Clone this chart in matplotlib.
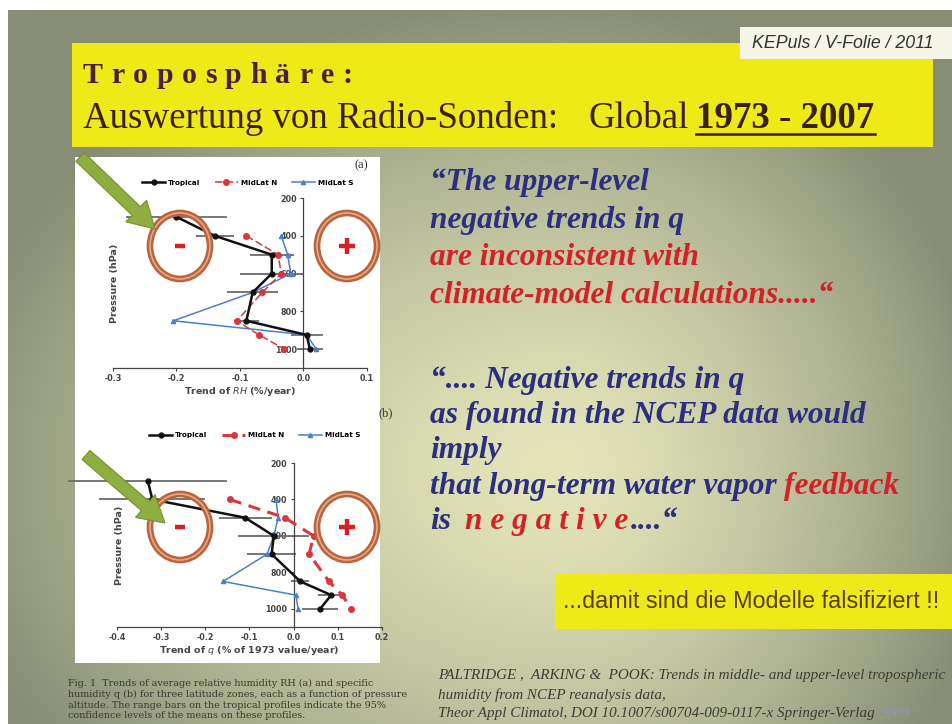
import numpy as np
import matplotlib
matplotlib.use("Agg")
import matplotlib.pyplot as plt
from matplotlib.patches import Rectangle, Ellipse, FancyArrow

W, H = 953, 724

# ── data ──────────────────────────────────────────────────────────────────
levels_trop = [300, 400, 500, 600, 700, 850, 925, 1000]
levels_mid = [400, 500, 600, 700, 850, 925, 1000]

rh_tropical = [-0.20, -0.14, -0.05, -0.05, -0.08, -0.09, 0.005, 0.01]
rh_tropical_err = [0.08, 0.03, 0.035, 0.05, 0.04, 0.02, 0.025, 0.02]
rh_midlat_n = [-0.09, -0.04, -0.035, -0.065, -0.105, -0.07, -0.03]
rh_midlat_s = [-0.035, -0.025, -0.02, -0.08, -0.205, 0.005, 0.02]

q_tropical = [-0.33, -0.32, -0.11, -0.045, -0.05, 0.015, 0.085, 0.06]
q_tropical_err = [0.18, 0.12, 0.06, 0.08, 0.055, 0.02, 0.03, 0.04]
q_midlat_n = [-0.145, -0.02, 0.045, 0.035, 0.08, 0.11, 0.13]
q_midlat_s = [-0.04, -0.035, -0.045, -0.06, -0.16, 0.005, 0.01]

pressure_ticks = [200, 400, 600, 800, 1000]
rh_ticks = [-0.3, -0.2, -0.1, 0.0, 0.1]
q_ticks = [-0.4, -0.3, -0.2, -0.1, 0.0, 0.1, 0.2]

caption = [
    "Fig. 1  Trends of average relative humidity RH (a) and specific",
    "humidity q (b) for three latitude zones, each as a function of pressure",
    "altitude. The range bars on the tropical profiles indicate the 95%",
    "confidence levels of the means on these profiles.",
]
citation = [
    "PALTRIDGE ,  ARKING &  POOK: Trends in middle- and upper-level tropospheric",
    "humidity from NCEP reanalysis data,",
    "Theor Appl Climatol, DOI 10.1007/s00704-009-0117-x Springer-Verlag",
]

# ── palette ───────────────────────────────────────────────────────────────
YELLOW = "#efea17"
BLUE_TXT = "#2c2f80"
RED_TXT = "#d42128"
BLACK = "#111111"
RED = "#d8383c"
BLUE = "#4a7fd0"
RING = "#b8643c"
RING_HI = "#e8a888"
GREEN = "#8fae3f"
SERIF = "Liberation Serif"
SANS = "Liberation Sans"

fig = plt.figure(figsize=(W / 100, H / 100), dpi=100)
rend = fig.canvas.get_renderer()


def full_axes(z):
    ax = fig.add_axes([0, 0, 1, 1], zorder=z)
    ax.set_xlim(0, W)
    ax.set_ylim(H, 0)
    ax.axis("off")
    ax.patch.set_alpha(0)
    return ax


def px_axes(l, t, r, b):
    return fig.add_axes([l / W, 1 - b / H, (r - l) / W, (b - t) / H], zorder=2)


# ── background: olive radial shading ──────────────────────────────────────
bg = full_axes(0)
yy, xx = np.mgrid[0:H, 0:W] + 0.5
cx, cy = 560, 470
rx = np.where(xx < cx, (xx - cx) / 620, (xx - cx) / 430)
ry = (yy - cy) / 470
t = np.clip(np.sqrt(rx ** 2 + ry ** 2), 0, 1) ** 1.4
light = np.array([0.895, 0.898, 0.725])
dark = np.array([0.53, 0.56, 0.46])
img = light * (1 - t[..., None]) + dark * t[..., None]
img[:10, :, :] = 1.0
img[:, :8, :] = 1.0
bg.imshow(img, extent=(0, W, H, 0), aspect="auto", interpolation="bilinear")
bg.set_xlim(0, W); bg.set_ylim(H, 0)

bg.add_patch(Rectangle((72, 43), 861, 104, color=YELLOW, lw=0))
bg.add_patch(Rectangle((740, 27), 213, 32, color="#f5f5e8", lw=0))
bg.add_patch(Rectangle((555, 574), 398, 55, color=YELLOW, lw=0))
bg.add_patch(Rectangle((75, 157), 305, 506, color="white", lw=0))

ov = full_axes(5)


def chain(x, y, parts, **kw):
    # parts: (text, colour, gap in px after it)
    for s, c, gap in parts:
        tx = ov.text(x, y, s, color=c, **kw)
        x += tx.get_window_extent(renderer=rend).width + gap
    return x


# ── header ───────────────────────────────────────────────────────────────
ov.text(752, 43, "KEPuls / V-Folie / 2011", family=SANS, style="italic",
        fontsize=12.8, color="#333333", va="center")

x = 83
for ch in "Troposphäre:":
    tx = ov.text(x, 83, ch, family=SERIF, weight="bold", fontsize=21.5,
                 color="#4a1f3c", va="baseline")
    x += tx.get_window_extent(renderer=rend).width + 8.5

x_end = chain(83, 128, [("Auswertung von Radio-Sonden:", "#3b2113", 30),
                        ("Global", "#3b2113", 8)],
              family=SERIF, fontsize=26.6, va="baseline")
x_num = x_end
x_end = chain(x_num, 128, [("1973 - 2007", "#3b2113", 0)],
              family=SERIF, weight="bold", fontsize=26.6, va="baseline")
ov.plot([x_num, x_end], [134, 134], color="#3b2113", lw=1.8)

# ── quotes ───────────────────────────────────────────────────────────────
qkw = dict(family=SERIF, weight="bold", style="italic", fontsize=22.6,
           va="baseline")
qx = 430
ov.text(qx, 190, "\u201cThe upper-level", color=BLUE_TXT, **qkw)
ov.text(qx, 228, "negative trends in q", color=BLUE_TXT, **qkw)
ov.text(qx, 265, "are inconsistent with", color=RED_TXT, **qkw)
ov.text(qx, 303, "climate-model calculations.....\u201c", color=RED_TXT, **qkw)

ov.text(qx, 388, "\u201c.... Negative trends in q", color=BLUE_TXT, **qkw)
ov.text(qx, 423, "as found in the NCEP data would", color=BLUE_TXT, **qkw)
ov.text(qx, 458, "imply", color=BLUE_TXT, **qkw)
chain(qx, 494, [("that long-term water vapor", BLUE_TXT, 7),
                ("feedback", RED_TXT, 0)], **qkw)
chain(qx, 529, [("is", BLUE_TXT, 14), ("n e g a t i v e", RED_TXT, 3),
                ("....\u201c", BLUE_TXT, 0)], **qkw)

ov.text(563, 602, "...damit sind die Modelle falsifiziert !!", family=SANS,
        fontsize=16.8, color="#5a3b10", va="center")

# ── captions ─────────────────────────────────────────────────────────────
for i, line in enumerate(caption):
    ov.text(68, 683 + 11 * i, line, family="DejaVu Serif", fontsize=6.9,
            color="#3a3a30", va="center")
for i, line in enumerate(citation):
    yl = 676 + 19 * i
    xe = chain(438, yl, [(line, "#3d3d35", 5)], family=SERIF,
               style="italic", fontsize=10.9, va="center")
    if i == 2:
        ov.text(xe, yl, "2009", family=SERIF, style="italic",
                fontsize=10.9, color="#9096c0", va="center")


# ── profile panels ───────────────────────────────────────────────────────
def style_profile(ax, xticks, xlabel):
    ax.patch.set_alpha(0)
    ax.set_xlim(xticks[0], xticks[-1])
    ax.set_ylim(1100, 200)
    ax.spines[["top", "right"]].set_visible(False)
    ax.spines["left"].set_position(("data", 0))
    for s in ("left", "bottom"):
        ax.spines[s].set_color("#444444")
        ax.spines[s].set_linewidth(0.9)
    ax.set_xticks(xticks)
    ax.set_xticklabels([f"{v:.1f}" for v in xticks])
    ax.set_yticks(pressure_ticks)
    ax.tick_params(labelsize=5.8, length=2.5, width=0.8, colors="#444444",
                   pad=2)
    for lab in ax.get_xticklabels() + ax.get_yticklabels():
        lab.set_fontweight("bold")
    ax.set_xlabel(xlabel, fontsize=6.8, weight="bold", color="#444444",
                  labelpad=1)
    ax.set_ylabel("Pressure (hPa)", fontsize=6.8, weight="bold",
                  color="#444444")
    ax.yaxis.set_label_coords(0.025, 0.5)


def draw_profiles(ax, trop, err, midn, mids, lw_n, dash_n):
    ax.errorbar(trop, levels_trop, xerr=err, fmt="none", ecolor="#6b6b6b",
                elinewidth=1.3, capsize=0, clip_on=False, zorder=2)
    ax.plot(mids, levels_mid, color=BLUE, lw=1.1, marker="^", ms=3,
            label="MidLat S", zorder=3)
    ax.plot(midn, levels_mid, color=RED, lw=lw_n, ls=dash_n, marker="o",
            ms=4, label="MidLat N", zorder=3)
    ax.plot(trop, levels_trop, color=BLACK, lw=1.8, marker="o", ms=3.5,
            label="Tropical", zorder=4)
    h, l = ax.get_legend_handles_labels()
    order = [2, 1, 0]
    ax.legend([h[i] for i in order], [l[i] for i in order], ncol=3,
              loc="center", frameon=False, handlelength=3.2,
              columnspacing=2.0, handletextpad=0.4,
              prop=dict(size=5.2, weight="bold"))


ax_a = px_axes(113, 198, 367, 368)
style_profile(ax_a, rh_ticks, "Trend of $\\mathbf{\\it{RH}}$ (%/year)")
draw_profiles(ax_a, rh_tropical, rh_tropical_err, rh_midlat_n, rh_midlat_s,
              1.1, (0, (5, 2)))
ax_a.get_legend().set_bbox_to_anchor((0.53, 1.09), transform=ax_a.transAxes)

ax_b = px_axes(117, 463, 382, 627)
style_profile(ax_b, q_ticks, "Trend of $\\mathbf{\\it{q}}$ (% of 1973 value/year)")
draw_profiles(ax_b, q_tropical, q_tropical_err, q_midlat_n, q_midlat_s,
              2.2, (0, (4, 2.5)))
ax_b.get_legend().set_bbox_to_anchor((0.52, 1.17), transform=ax_b.transAxes)

ov.text(361, 165, "(a)", family=SERIF, fontsize=9, color="#333333",
        va="center", ha="center")
ov.text(386, 413, "(b)", family=SERIF, fontsize=9, color="#333333",
        va="center", ha="center")

# ── circles, signs and arrows ────────────────────────────────────────────
for cx_, cy_, sign in [(180, 246, "-"), (347, 246, "+"),
                       (180, 527, "-"), (347, 527, "+")]:
    ov.add_patch(Ellipse((cx_, cy_), 60, 66, fill=False, ec=RING, lw=4.8))
    ov.add_patch(Ellipse((cx_, cy_), 60, 66, fill=False, ec=RING_HI, lw=1.2))
    if sign == "-":
        ov.plot([cx_ - 5, cx_ + 5], [cy_, cy_], color=RED_TXT, lw=3.2,
                solid_capstyle="butt")
    else:
        ov.plot([cx_ - 8, cx_ + 8], [cy_, cy_], color=RED_TXT, lw=3.2,
                solid_capstyle="butt")
        ov.plot([cx_, cx_], [cy_ - 8, cy_ + 8], color=RED_TXT, lw=3.2,
                solid_capstyle="butt")

for x0, y0, x1, y1 in [(80, 157, 155, 229), (86, 455, 165, 523)]:
    ov.add_patch(FancyArrow(x0, y0, x1 - x0, y1 - y0, width=12,
                            head_width=30, head_length=26,
                            length_includes_head=True, fc=GREEN,
                            ec="#74902c", lw=0.8))

fig.savefig("out.png", dpi=100)
